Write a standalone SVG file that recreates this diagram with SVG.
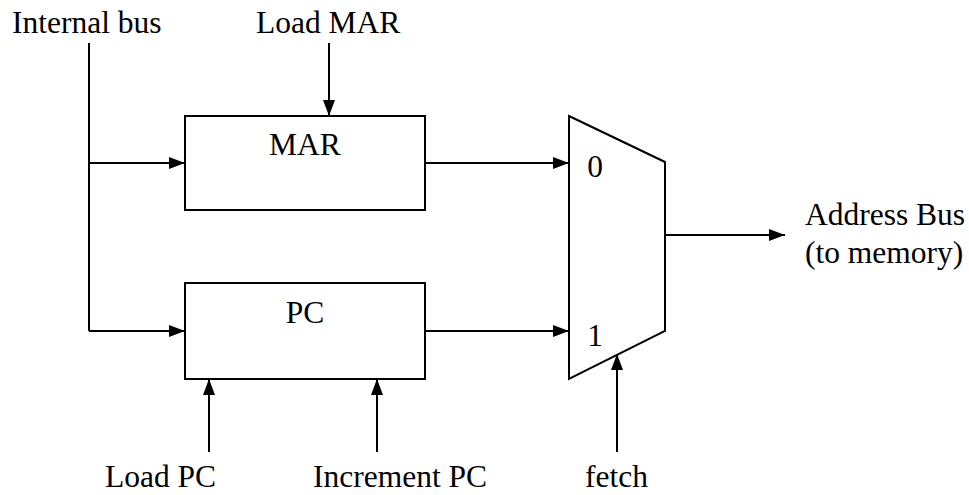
<svg xmlns="http://www.w3.org/2000/svg" width="969" height="495" viewBox="0 0 969 495">
<style>
text{font-family:"Liberation Serif","Times New Roman",serif;font-size:31.5px;fill:#000}
.box{fill:#fff;stroke:#000;stroke-width:2}
.ln{fill:none;stroke:#000;stroke-width:2}
</style>
<defs>
<marker id="ah" viewBox="0 0 16 12" refX="16" refY="6" markerWidth="16" markerHeight="12" markerUnits="userSpaceOnUse" orient="auto">
<path d="M0,0 L16,6 L0,12 Z" fill="#000"/>
</marker>
</defs>
<rect width="969" height="495" fill="#fff"/>
<g id="connectors">
<path class="ln" d="M89,43 V331"/>
<path class="ln" d="M89,163 H185" marker-end="url(#ah)"/>
<path class="ln" d="M89,331 H185" marker-end="url(#ah)"/>
<path class="ln" d="M329,43 V116" marker-end="url(#ah)"/>
<path class="ln" d="M425,163 H569" marker-end="url(#ah)"/>
<path class="ln" d="M425,331 H569" marker-end="url(#ah)"/>
<path class="ln" d="M209,452 V379" marker-end="url(#ah)"/>
<path class="ln" d="M377,452 V379" marker-end="url(#ah)"/>
<path class="ln" d="M617,452 V354" marker-end="url(#ah)"/>
<path class="ln" d="M665,235 H785" marker-end="url(#ah)"/>
</g>
<g id="MAR">
<rect class="box" x="185" y="116" width="240" height="94"/>
<text x="305" y="155" text-anchor="middle">MAR</text>
</g>
<g id="PC">
<rect class="box" x="185" y="283" width="240" height="96"/>
<text x="305" y="323" text-anchor="middle">PC</text>
</g>
<g id="mux">
<path class="box" d="M569,116 L665,162 L665,331 L569,379 Z"/>
<text x="595" y="177" text-anchor="middle">0</text>
<text x="595" y="346" text-anchor="middle">1</text>
</g>
<g id="labels">
<text x="12" y="33">Internal bus</text>
<text x="256" y="33">Load MAR</text>
<text x="805" y="225">Address Bus</text>
<text x="805" y="263">(to memory)</text>
<text x="105" y="487">Load PC</text>
<text x="313" y="487">Increment PC</text>
<text x="585" y="487">fetch</text>
</g>
</svg>
